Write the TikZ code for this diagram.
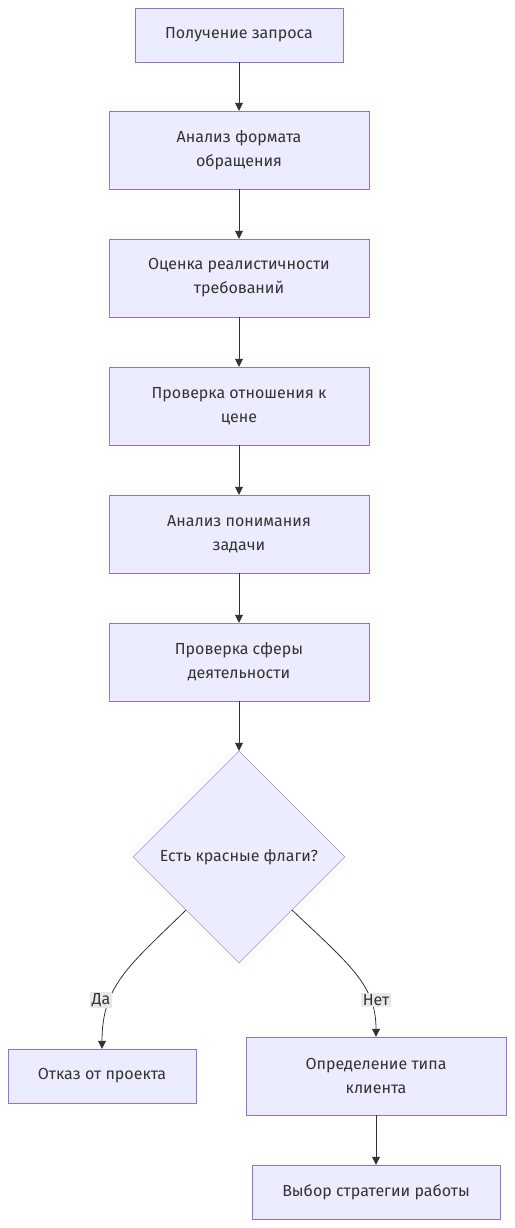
\documentclass[tikz,border=0pt]{standalone}
\usepackage{fontspec}
\setmainfont{Fira Sans}
\usetikzlibrary{shapes.geometric,arrows.meta}
\definecolor{boxfill}{HTML}{ECECFF}
\definecolor{boxline}{HTML}{9370DB}
\definecolor{ink}{HTML}{333333}
\definecolor{lblbg}{HTML}{E8E8E8}
\tikzset{
  box/.style={draw=boxline,fill=boxfill,text=ink,align=center,inner sep=0pt,
    font=\fontsize{16}{24}\selectfont},
  flow/.style={draw=ink,line width=0.8pt,-{Triangle[length=8pt,width=8pt]}},
  lbl/.style={fill=lblbg,text=ink,inner sep=1.5pt,font=\fontsize{16}{20}\selectfont}
}
\begin{document}
\begin{tikzpicture}[x=1pt,y=-1pt]
  \useasboundingbox (0,0) rectangle (514,1228);
  \node[box,minimum width=208pt,minimum height=54pt] (get) at (239,35) {Получение запроса};
  \node[box,minimum width=260pt,minimum height=78pt] (fmt) at (239,150) {Анализ формата\\обращения};
  \node[box,minimum width=260pt,minimum height=78pt] (real) at (239,278) {Оценка реалистичности\\требований};
  \node[box,minimum width=260pt,minimum height=78pt] (price) at (239,406) {Проверка отношения к\\цене};
  \node[box,minimum width=260pt,minimum height=78pt] (task) at (239,534) {Анализ понимания\\задачи};
  \node[box,minimum width=260pt,minimum height=78pt] (sphere) at (239,662) {Проверка сферы\\деятельности};
  \node[box,diamond,aspect=1,minimum width=212pt,minimum height=212pt] (flags) at (239,857) {Есть красные флаги?};
  \node[box,minimum width=188pt,minimum height=54pt] (reject) at (102,1076) {Отказ от проекта};
  \node[box,minimum width=260pt,minimum height=78pt] (ctype) at (376,1076) {Определение типа\\клиента};
  \node[box,minimum width=248pt,minimum height=54pt] (strat) at (376,1192) {Выбор стратегии работы};
  % straight chain
  \draw[flow] (get) -- (fmt);
  \draw[flow] (fmt) -- (real);
  \draw[flow] (real) -- (price);
  \draw[flow] (price) -- (task);
  \draw[flow] (task) -- (sphere);
  \draw[flow] (sphere) -- (flags);
  % branches
  \draw[flow] (flags.south west) .. controls (130,965) and (102,985) .. (reject.north);
  \draw[flow] (flags.south east) .. controls (350,965) and (376,985) .. (ctype.north);
  \node[lbl] (yes) at (101,1000) {Да};
  \node[lbl] (no) at (376,1000) {Нет};
  \draw[flow] (ctype) -- (strat);
\end{tikzpicture}
\end{document}
